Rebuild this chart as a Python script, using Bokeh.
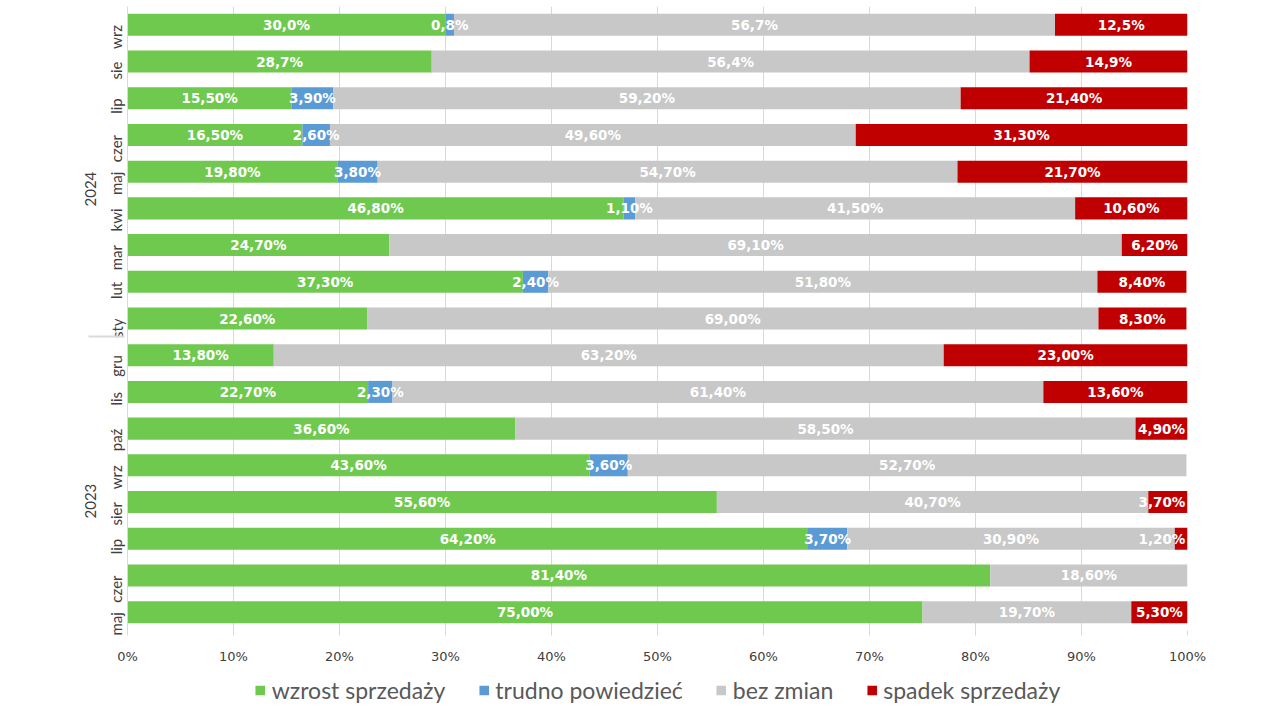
import math
from bokeh.plotting import figure
from bokeh.layouts import column
from bokeh.models import (FactorRange, ColumnDataSource, NumeralTickFormatter, Legend,
                          LegendItem, FixedTicker)
from bokeh.core.properties import value
from bokeh.embed import file_html
from bokeh.resources import INLINE

# ---- data (bottom to top) ----
years = ["2023"] * 8 + ["2024"] * 9
months = ["maj", "czer", "lip", "sier", "wrz", "paź", "lis", "gru",
          "sty", "lut", "mar", "kwi", "maj", "czer", "lip", "sie", "wrz"]
wzrost = [75.0, 81.4, 64.2, 55.6, 43.6, 36.6, 22.7, 13.8,
          22.6, 37.3, 24.7, 46.8, 19.8, 16.5, 15.5, 28.7, 30.0]
trudno = [0.0, 0.0, 3.7, 0.0, 3.6, 0.0, 2.3, 0.0,
          0.0, 2.4, 0.0, 1.1, 3.8, 2.6, 3.9, 0.0, 0.8]
bez = [19.7, 18.6, 30.9, 40.7, 52.7, 58.5, 61.4, 63.2,
       69.0, 51.8, 69.1, 41.5, 54.7, 49.6, 59.2, 56.4, 56.7]
spadek = [5.3, 0.0, 1.2, 3.7, 0.0, 4.9, 13.6, 23.0,
          8.3, 8.4, 6.2, 10.6, 21.7, 31.3, 21.4, 14.9, 12.5]
decimals = [2] * 15 + [1, 1]
series_names = ["wzrost sprzedaży", "trudno powiedzieć", "bez zmian", "spadek sprzedaży"]
colors = ["#70C94F", "#5B9BD5", "#C8C8C8", "#C00000"]
x_ticks = [0.0, 0.1, 0.2, 0.3, 0.4, 0.5, 0.6, 0.7, 0.8, 0.9, 1.0]

factors = list(zip(years, months))
keys = ["w", "t", "b", "s"]
series = [wzrost, trudno, bez, spadek]
data = {"y": factors}
for k, s in zip(keys, series):
    data[k] = [v / 100 for v in s]
src = ColumnDataSource(data)

W = 1260
FW = 1060
p = figure(width=W, height=668, output_backend="svg", toolbar_location=None,
           y_range=FactorRange(*factors, group_padding=0, factor_padding=0, range_padding=0),
           x_range=(0, 1), min_border_left=127, min_border_right=73,
           min_border_top=6, min_border_bottom=38)
p.outline_line_color = None
p.background_fill_color = "white"

rs = p.hbar_stack(keys, y="y", height=0.6, color=colors, source=src, line_color=None)

# segment labels (kept inside the plot area at the right edge)
CHAR_PX = 9.0
lx, ly, lt, la = [], [], [], []
for i, f in enumerate(factors):
    left = 0.0
    for s in series:
        v = s[i]
        if v > 0:
            txt = f"{v:.{decimals[i]}f}".replace(".", ",") + "%"
            cx = left + v / 200
            half = len(txt) * CHAR_PX / 2 / FW
            if cx + half > 0.998:
                lx.append(0.998)
                la.append("right")
            else:
                lx.append(cx)
                la.append("center")
            ly.append(f)
            lt.append(txt)
        left += v / 100
lsrc = ColumnDataSource(dict(x=lx, y=ly, t=lt, a=la))
p.text(x="x", y="y", text="t", source=lsrc, text_color="white", text_align="a",
       text_baseline="middle", text_font=value("DejaVu Sans"), text_font_style="bold",
       text_font_size="13.5px")

# x axis
p.xaxis.ticker = FixedTicker(ticks=x_ticks)
p.xaxis.formatter = NumeralTickFormatter(format="0%")
p.xaxis.axis_line_color = None
p.xaxis.major_tick_line_color = "#D9D9D9"
p.xaxis.major_tick_out = 5
p.xaxis.major_tick_in = 0
p.xaxis.minor_tick_line_color = None
p.xaxis.major_label_text_font = "DejaVu Sans"
p.xaxis.major_label_text_font_size = "13px"
p.xaxis.major_label_text_color = "#404040"
p.xaxis.major_label_standoff = 13
p.xgrid.grid_line_color = "#D9D9D9"
p.ygrid.grid_line_color = None

# y axis
p.yaxis.axis_line_color = "#D9D9D9"
p.yaxis.major_tick_line_color = None
p.yaxis.minor_tick_line_color = None
p.yaxis.major_label_orientation = math.pi / 2
p.yaxis.group_label_orientation = math.pi / 2
p.yaxis.major_label_text_font = "Lato"
p.yaxis.major_label_text_font_size = "15px"
p.yaxis.major_label_text_color = "#404040"
p.yaxis.group_text_font = "Lato"
p.yaxis.group_text_font_size = "15px"
p.yaxis.group_text_color = "#404040"
p.yaxis.group_text_font_style = "normal"
p.yaxis.separator_line_color = "#D9D9D9"

# legend in its own strip below the chart
pl = figure(width=W, height=38, output_backend="svg", toolbar_location=None,
            x_range=(0, 1), y_range=(0, 1), x_axis_location=None, y_axis_location=None,
            min_border_left=24, min_border_right=0, min_border_top=6, min_border_bottom=0)
pl.outline_line_color = None
pl.xgrid.visible = False
pl.ygrid.visible = False
lr = [pl.hbar(y=[-5], left=[0], right=[0.01], height=0.5, color=c, line_color=None)
      for c in colors]
legend = Legend(items=[LegendItem(label=n, renderers=[r]) for n, r in zip(series_names, lr)],
                orientation="horizontal", location="center",
                label_text_font="Lato", label_text_font_size="23px",
                label_text_color="#595959", glyph_width=12, glyph_height=12,
                spacing=32, label_standoff=6, border_line_color=None,
                background_fill_alpha=0, padding=0, margin=0)
pl.add_layout(legend)

layout = column(p, pl, spacing=0)
open("out.html", "w").write(file_html(layout, INLINE))
